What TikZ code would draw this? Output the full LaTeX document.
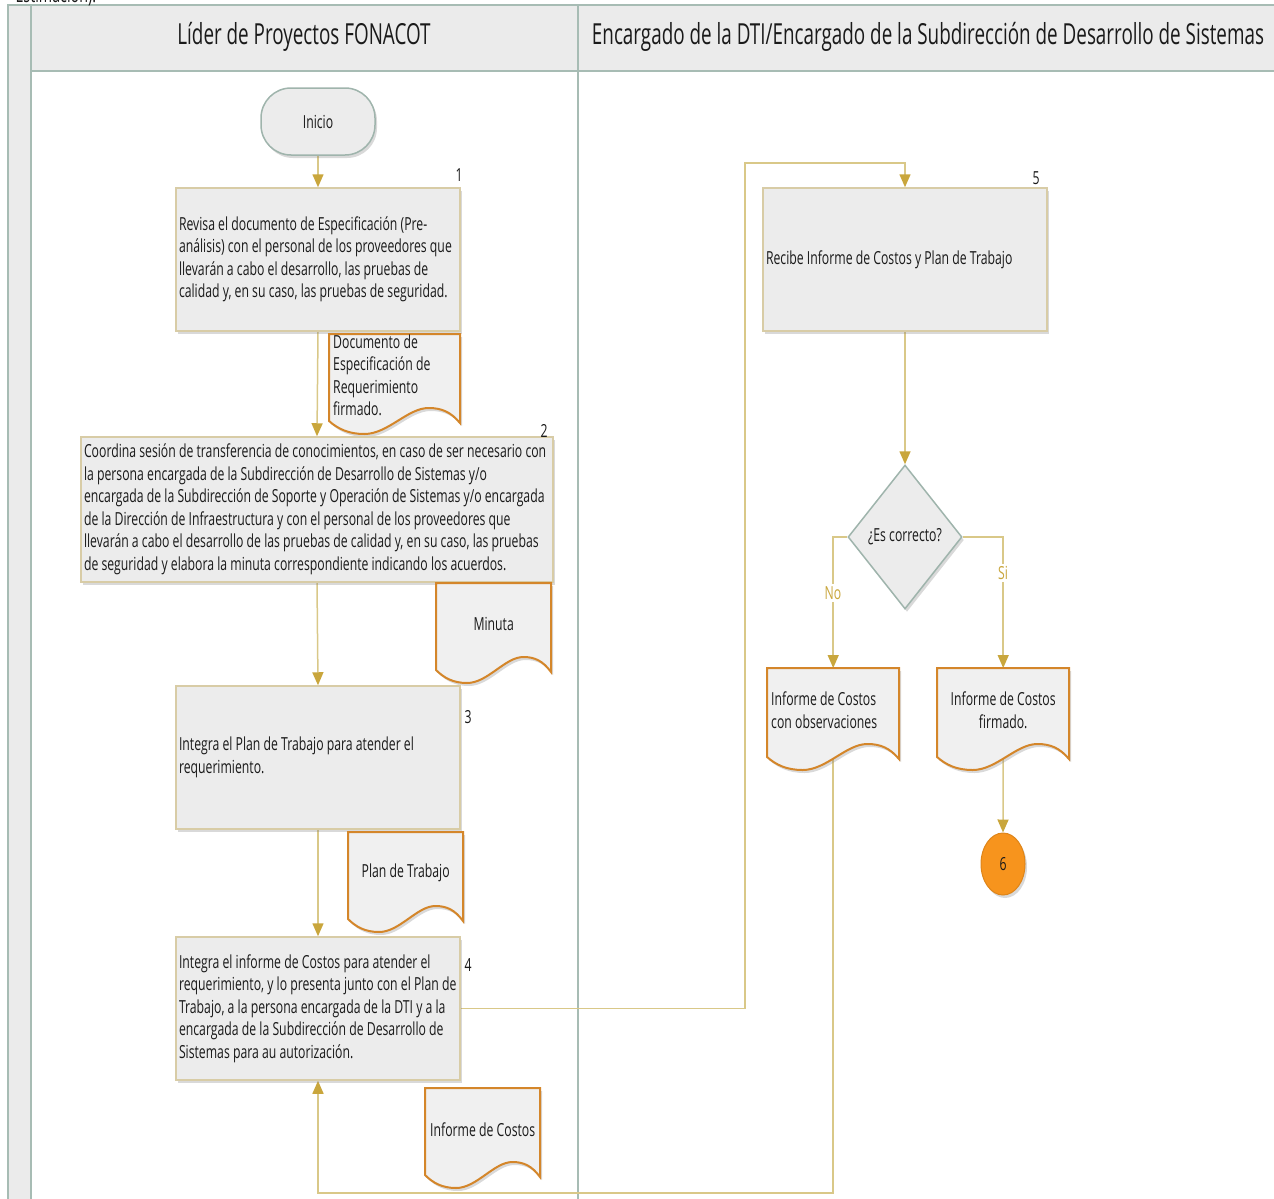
\documentclass[tikz,border=0pt]{standalone}
\usepackage{fontspec}
\setmainfont{Open Sans}[FakeStretch=0.68]
\newfontfamily\hdrfont{Open Sans}[FakeStretch=0.65]
\usetikzlibrary{arrows.meta,shapes.geometric,shadows,calc,backgrounds}

\definecolor{lanebd}{HTML}{A7BCB4}
\definecolor{lanefill}{HTML}{EBEBEB}
\definecolor{boxbd}{HTML}{D8CCA6}
\definecolor{boxfill}{HTML}{ECECEC}
\definecolor{docbd}{HTML}{D4862A}
\definecolor{docfill}{HTML}{F0F0F0}
\definecolor{connc}{HTML}{D9C888}
\definecolor{arrc}{HTML}{C9A63C}
\definecolor{orangec}{HTML}{F7941D}
\definecolor{termbd}{HTML}{9FB4AC}
\definecolor{txt}{HTML}{1A1A1A}

\newcommand\lnx[1]{\mbox{#1}}

\tikzset{
  every node/.style={font=\fontsize{18}{22.5}\selectfont, text=txt,
    execute at begin node={\spaceskip=0pt\xspaceskip=0pt\hyphenpenalty=10000}},
  hdr/.style={font=\hdrfont\fontsize{29}{34}\selectfont},
  procbox/.style={draw=boxbd, line width=1.5pt, fill=boxfill,
    drop shadow={shadow xshift=2pt,shadow yshift=-3pt,opacity=.3},
    align=flush left, inner sep=3pt},
  termbox/.style={draw=termbd, line width=1.5pt, fill=boxfill, rounded corners=30pt,
    drop shadow={shadow xshift=2pt,shadow yshift=-3pt,opacity=.3},
    minimum width=114pt, minimum height=67pt},
  decbox/.style={diamond, draw=termbd, line width=1.5pt, fill=boxfill,
    drop shadow={shadow xshift=2pt,shadow yshift=-3pt,opacity=.3},
    minimum width=114pt, minimum height=144pt, inner sep=0pt},
  docline/.style={draw=docbd, line width=2pt, fill=docfill,
    drop shadow={shadow xshift=2pt,shadow yshift=-3pt,opacity=.3}},
  doctext/.style={inner ysep=0pt},
  numlbl/.style={inner sep=0pt},
  conn/.style={draw=connc, line width=1.5pt},
  arr/.style={conn, -{Triangle[width=11pt,length=13pt,color=arrc]}},
  brlbl/.style={fill=white, text=arrc, inner sep=2pt},
  connector6/.style={ellipse, draw=orangec!90!black, fill=orangec, line width=1pt,
    minimum width=44pt, minimum height=62pt,
    drop shadow={shadow xshift=2pt,shadow yshift=-3pt,opacity=.3}},
}

\newcommand\docshape[7][]{%
  \pgfmathsetmacro\dxa{#3+#5}%
  \pgfmathsetmacro\dyb{#4+#6}%
  \pgfmathsetmacro\dtw{#5-8}%
  \pgfmathsetmacro\dmh{#6-18}%
  \draw[docline] (#3,#4) -- (\dxa,#4) -- (\dxa,{\dyb-11})
    .. controls ({#3+0.93*#5},{\dyb-22}) and ({#3+0.86*#5},{\dyb-26}) .. ({#3+0.76*#5},{\dyb-26})
    .. controls ({#3+0.6*#5},{\dyb-26}) and ({#3+0.45*#5},{\dyb}) .. ({#3+0.27*#5},{\dyb})
    .. controls ({#3+0.15*#5},{\dyb}) and ({#3+0.07*#5},{\dyb-5}) .. (#3,{\dyb-13}) -- cycle;
  \node[doctext,#1, text width=\dtw pt, minimum height=\dmh pt, anchor=north west, inner xsep=4pt] (#2) at (#3,#4) {#7};
}

\begin{document}
\begin{tikzpicture}[x=1pt,y=-1pt]
\useasboundingbox (0,0) rectangle (1274,1199);

% pool frame
\begin{scope}[on background layer]
  \fill[lanefill] (8,5) rectangle (31,1199);
  \fill[lanefill] (31,5) rectangle (1274,71);
  \draw[lanebd, line width=2pt] (8,1199) -- (8,5) -- (1274,5);
  \draw[lanebd, line width=2pt] (31,5) -- (31,1199);
  \draw[lanebd, line width=2pt] (31,71) -- (1274,71);
  \draw[lanebd, line width=2pt] (578,5) -- (578,1199);
\end{scope}

\node[anchor=base west, font=\hdrfont\fontsize{22}{26}\selectfont] (cut) at (12,3) {Estimación).};

\node[hdr] (h1) at (304,37) {Líder de Proyectos FONACOT};
\node[hdr] (h2) at (928,37) {Encargado de la DTI/Encargado de la Subdirección de Desarrollo de Sistemas};

% left lane
\node[termbox] (ini) at (318,121.5) {Inicio};

\node[procbox, text width=278pt, minimum height=143pt] (b1) at (318,259.5)
  {\lnx{Revisa el documento de Especificación (Pre-}\\\lnx{análisis) con el personal de los proveedores que}\\\lnx{llevarán a cabo el desarrollo, las pruebas de}\\\lnx{calidad y, en su caso, las pruebas de seguridad.}};
\node[numlbl] (n1) at (459,175) {1};

\docshape[align=flush left]{dSpec}{329}{334}{131}{100}{\lnx{Documento de}\\\lnx{Especificación de}\\\lnx{Requerimiento}\\\lnx{firmado.}}

\node[procbox, text width=466pt, minimum height=145pt] (b2) at (317,509.5)
  {\lnx{Coordina sesión de transferencia de conocimientos, en caso de ser necesario con}\\\lnx{la persona encargada de la Subdirección de Desarrollo de Sistemas y/o}\\\lnx{encargada de la Subdirección de Soporte y Operación de Sistemas y/o encargada}\\\lnx{de la Dirección de Infraestructura y con el personal de los proveedores que}\\\lnx{llevarán a cabo el desarrollo de las pruebas de calidad y, en su caso, las pruebas}\\\lnx{de seguridad y elabora la minuta correspondiente indicando los acuerdos.}};
\node[numlbl] (n2) at (544,431) {2};

\docshape[align=flush center]{dMin}{436}{583}{115}{100}{Minuta}

\node[procbox, text width=278pt, minimum height=143pt] (b3) at (318,757.5)
  {\lnx{Integra el Plan de Trabajo para atender el}\\\lnx{requerimiento.}};
\node[numlbl] (n3) at (468,717) {3};

\docshape[align=flush center]{dPlan}{348}{832}{115}{100}{\lnx{Plan de Trabajo}}

\node[procbox, text width=278pt, minimum height=143pt] (b4) at (318,1008.5)
  {\lnx{Integra el informe de Costos para atender el}\\\lnx{requerimiento, y lo presenta junto con el Plan de}\\\lnx{Trabajo, a la persona encargada de la DTI y a la}\\\lnx{encargada de la Subdirección de Desarrollo de}\\\lnx{Sistemas para au autorización.}};
\node[numlbl] (n4) at (468,965) {4};

\docshape[align=flush center]{dCost}{425}{1088}{115}{100}{\lnx{Informe de Costos}}

% right lane
\node[procbox, text width=278pt, minimum height=143pt] (b5) at (905,259.5)
  {\lnx{Recibe Informe de Costos y Plan de Trabajo}};
\node[numlbl] (n5) at (1036,178) {5};

\node[decbox] (dec) at (905,537) {¿Es correcto?};

\docshape[align=flush left]{dNo}{767}{668}{132}{102}{\lnx{Informe de Costos}\\\lnx{con observaciones}}
\docshape[align=flush center]{dSi}{937}{668}{132}{102}{\lnx{Informe de Costos}\\\lnx{firmado.}}

\node[connector6] (c6) at (1003,864) {6};

\coordinate (k1) at (745,163);
\coordinate (k2) at (318,1193);

\begin{scope}[on background layer]
  \draw[arr] (ini.south) -- (b1.north);
  \draw[arr] (b1.south) -- (b2.north);
  \draw[arr] (b2.south) -- (b3.north);
  \draw[arr] (b3.south) -- (b4.north);
  \draw[arr] (b4.east) -| (k1) -| (b5.north);
  \draw[arr] (b5.south) -- (dec.north);
  \draw[arr] (dec.west) -| (dNo.north);
  \draw[arr] (dec.east) -| (dSi.north);
  \draw[arr] (dSi.south) -- (c6.north);
  \draw[arr] (dNo.south) |- (k2) -- (b4.south);
\end{scope}

\node[brlbl] (lNo) at (833,593) {No};
\node[brlbl] (lSi) at (1003,573) {Si};

\end{tikzpicture}
\end{document}
